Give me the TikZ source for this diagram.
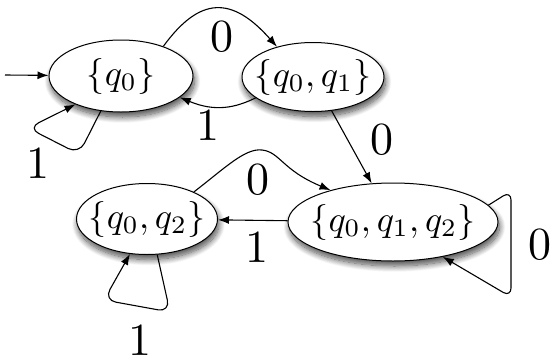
\documentclass[tikz,border=0pt]{standalone}
\usepackage{graphicx}
\usetikzlibrary{shapes.geometric,arrows.meta,shadows.blur}
\tikzset{
  state/.style={ellipse, draw=black, line width=1pt, fill=white, inner sep=0pt,
    blur shadow={shadow xshift=1.5pt, shadow yshift=-5pt, shadow blur steps=12, shadow blur radius=6pt, shadow opacity=70}},
  edge/.style={line width=1.1pt, -{Latex[length=11pt,width=8pt]}},
  lab/.style={inner sep=0pt}
}
\newcommand{\zt}[1]{\makebox[0pt]{\scalebox{3.6}{$#1$}}}
\newcommand{\dg}[1]{\scalebox{4.6}{#1}}
\begin{document}
\begin{tikzpicture}[x=1pt,y=-1pt]
\useasboundingbox (0,0) rectangle (554,362);
% states
\node[state, minimum width=144pt, minimum height=72pt] (A) at (121,76) {\zt{\{q_0\}}};
\node[state, minimum width=142pt, minimum height=69pt] (B) at (313,77) {\zt{\{q_0,q_1\}}};
\node[state, minimum width=141pt, minimum height=71pt] (C) at (147,219) {\zt{\{q_0,q_2\}}};
\node[state, minimum width=210pt, minimum height=78pt] (D) at (393,222) {\zt{\{q_0,q_1,q_2\}}};
% start
\coordinate (S) at (5,75);
\draw[edge] (S) -- (A);
% A -> B
\draw[edge] (A.35) .. controls (200,-4) and (232,-4) .. (B.140);
\node[lab] (l1) at (222,37) {\dg{0}};
% B -> A
\draw[edge] (B.200) .. controls (235,108) and (215,112) .. (A.340);
\node[lab] (l2) at (208,125) {\dg{1}};
% A loop
\draw[edge, rounded corners=12pt] (A.240) -- (79,154) -- (28,128) -- (A.212);
\node[lab] (l3) at (38,163) {\dg{1}};
% B -> D
\draw[edge] (B) -- (D);
\node[lab] (l4) at (382,140) {\dg{0}};
% C -> D
\draw[edge] (C.30) .. controls (225,168) and (245,148) .. (262,150) .. controls (280,152) and (282,170) .. (D.153);
\node[lab] (l5) at (258,180) {\dg{0}};
% D -> C
\draw[edge] (D) -- (C);
\node[lab] (l6) at (257,247) {\dg{1}};
% C loop
\draw[edge, rounded corners=12pt] (C.286) -- (170,312) -- (104,300) -- (C.244);
\node[lab] (l7) at (140,340) {\dg{1}};
% D loop
\draw[edge, rounded corners=9pt] (D.10) -- (511,191) -- (511,297) -- (D.325);
\node[lab] (l8) at (540,245) {\dg{0}};
\end{tikzpicture}
\end{document}
